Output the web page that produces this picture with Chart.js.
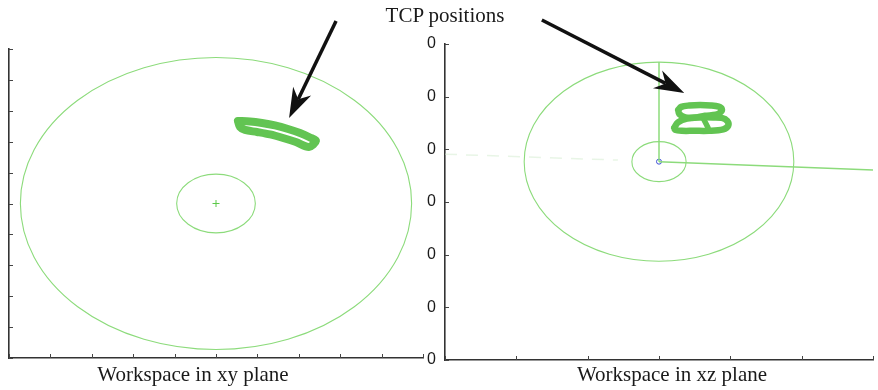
<!DOCTYPE html>
<html>
<head>
<meta charset="utf-8">
<title>TCP positions</title>
<script src="https://cdn.jsdelivr.net/npm/chart.js@4/dist/chart.umd.min.js"></script>
<style>
  html, body { margin: 0; padding: 0; background: #fff; }
  #wrap { position: relative; width: 878px; height: 390px; overflow: hidden; }
  #wrap canvas { position: absolute; left: 0; top: 0; }
  .cap { position: absolute; font-family: "Liberation Serif", "DejaVu Serif", serif; font-size: 21px;
         line-height: 21px; color: #1a1a1a; text-align: center; width: 300px; white-space: nowrap; }
</style>
</head>
<body>
<div id="wrap">
  <canvas id="xy" width="878" height="390"></canvas>
  <canvas id="xz" width="878" height="390"></canvas>
  <div class="cap" style="left:295px; top:5px;">TCP positions</div>
  <div class="cap" style="left:43px; top:364px;">Workspace in xy plane</div>
  <div class="cap" style="left:522px; top:364px;">Workspace in xz plane</div>
</div>
<script>
// ---- axis ticks ----
const xyTickValues = [-1, -0.8, -0.6, -0.4, -0.2, 0, 0.2, 0.4, 0.6, 0.8, 1];
const xzTickValuesX = [-1.5, -1, -0.5, 0, 0.5, 1, 1.5];
const xzTickValuesZ = [-1.5, -1, -0.5, 0, 0.5, 1, 1.5];
const xzTickLabels = ['0', '0', '0', '0', '0', '0', '0'];

// ---- robot workspace (outer reach / inner dead zone) ----
const workspaceRadii = [0.945, 0.19];
const baseXY = [0, 0];
const baseXZ = [0, 0.383];

// ---- arm links shown in the xz view ----
const upperLinkX = [0, 0];
const upperLinkZ = [0.383, 1.328];
const forearmX = [0, 1.5];
const forearmZ = [0.383, 0.304];
const shadowLinkX = [-1.5, -0.288];
const shadowLinkZ = [0.454, 0.398];

// ---- TCP trajectory, xy projection ----
const tcpXY_x = [0.106, 0.164, 0.222, 0.285, 0.348, 0.406, 0.454, 0.483,
                 0.449, 0.386, 0.324, 0.261, 0.198, 0.140, 0.116, 0.106];
const tcpXY_y = [0.534, 0.531, 0.521, 0.505, 0.482, 0.456, 0.427, 0.405,
                 0.366, 0.398, 0.424, 0.447, 0.463, 0.476, 0.495, 0.534];

// ---- TCP trajectory, xz projection (two stacked loops) ----
const tcpUpperX = [0.135, 0.156, 0.211, 0.288, 0.364, 0.419, 0.440, 0.433,
                   0.398, 0.322, 0.246, 0.184, 0.142, 0.135];
const tcpUpperZ = [0.874, 0.903, 0.916, 0.920, 0.916, 0.905, 0.885, 0.854,
                   0.828, 0.819, 0.800, 0.803, 0.836, 0.874];
const tcpLowerX = [0.107, 0.133, 0.197, 0.288, 0.378, 0.440, 0.478, 0.485,
                   0.450, 0.350, 0.246, 0.160, 0.112, 0.107];
const tcpLowerZ = [0.705, 0.757, 0.793, 0.803, 0.803, 0.798, 0.770, 0.724,
                   0.690, 0.676, 0.676, 0.676, 0.686, 0.705];
const tcpCrossX = [0.308, 0.343];
const tcpCrossZ = [0.800, 0.708];

// ---- callout arrows (tail, head) ----
const arrowXY = { from: [0.580, 1.181], to: [0.353, 0.553] };
const arrowXZ = { from: [-0.821, 1.728], to: [0.177, 1.035] };

const THIN_GREEN = '#8cdb7b';
const THICK_GREEN = '#62c452';
const AXIS_COLOR = '#333';

const pts = (xs, ys) => xs.map((v, i) => ({ x: v, y: ys[i] }));

// workspace circles, drawn through the scales so they follow the axis aspect
const workspacePlugin = {
  id: 'workspace',
  beforeDatasetsDraw(chart, args, opts) {
    const { ctx, scales: { x, y } } = chart;
    const cx = x.getPixelForValue(opts.center[0]);
    const cy = y.getPixelForValue(opts.center[1]);
    ctx.save();
    ctx.strokeStyle = opts.color;
    ctx.lineWidth = 1.1;
    for (const r of opts.radii) {
      const rx = Math.abs(x.getPixelForValue(opts.center[0] + r) - cx);
      const ry = Math.abs(y.getPixelForValue(opts.center[1] + r) - cy);
      ctx.beginPath();
      ctx.ellipse(cx, cy, rx, ry, 0, 0, Math.PI * 2);
      ctx.stroke();
    }
    ctx.restore();
  }
};

// short tick marks pointing into the plot area
const innerTicksPlugin = {
  id: 'innerTicks',
  afterDraw(chart, args, opts) {
    const { ctx, scales: { x, y }, chartArea } = chart;
    ctx.save();
    ctx.strokeStyle = opts.color;
    ctx.lineWidth = 1;
    ctx.beginPath();
    for (const v of opts.xValues) {
      const px = Math.round(x.getPixelForValue(v)) + 0.5;
      ctx.moveTo(px, chartArea.bottom);
      ctx.lineTo(px, chartArea.bottom - opts.length);
    }
    for (const v of opts.yValues) {
      const py = Math.round(y.getPixelForValue(v)) + 0.5;
      ctx.moveTo(chartArea.left, py);
      ctx.lineTo(chartArea.left + opts.length, py);
    }
    ctx.stroke();
    ctx.restore();
  }
};

// callout arrow with a notched head
const pointerPlugin = {
  id: 'pointer',
  afterDraw(chart, args, opts) {
    const { ctx, scales: { x, y } } = chart;
    const x0 = x.getPixelForValue(opts.from[0]), y0 = y.getPixelForValue(opts.from[1]);
    const x1 = x.getPixelForValue(opts.to[0]), y1 = y.getPixelForValue(opts.to[1]);
    const len = Math.hypot(x1 - x0, y1 - y0);
    const ux = (x1 - x0) / len, uy = (y1 - y0) / len;
    const L = opts.headLength, W = opts.headWidth, notch = 0.7 * L;
    ctx.save();
    ctx.strokeStyle = opts.color;
    ctx.fillStyle = opts.color;
    ctx.lineWidth = opts.width;
    ctx.beginPath();
    ctx.moveTo(x0, y0);
    ctx.lineTo(x1 - ux * notch, y1 - uy * notch);
    ctx.stroke();
    ctx.beginPath();
    ctx.moveTo(x1, y1);
    ctx.lineTo(x1 - ux * L - uy * W, y1 - uy * L + ux * W);
    ctx.lineTo(x1 - ux * notch, y1 - uy * notch);
    ctx.lineTo(x1 - ux * L + uy * W, y1 - uy * L - ux * W);
    ctx.closePath();
    ctx.fill();
    ctx.restore();
  }
};

const fixedTicks = values => scale => { scale.ticks = values.map(v => ({ value: v })); };

function axis(min, max, values, extra) {
  return Object.assign({
    type: 'linear', min, max,
    afterBuildTicks: fixedTicks(values),
    grid: { display: true, drawOnChartArea: false, drawTicks: false, color: 'rgba(0,0,0,0)' },
    border: { display: true, color: AXIS_COLOR, width: 1.6 },
    ticks: { display: false }
  }, extra);
}

const common = {
  responsive: false,
  animation: false,
  events: [],
  plugins: { legend: { display: false }, tooltip: { enabled: false } }
};

// ---------- xy plane ----------
new Chart(document.getElementById('xy'), {
  type: 'scatter',
  data: {
    datasets: [
      {
        data: pts(tcpXY_x, tcpXY_y), showLine: true, tension: 0.3,
        borderColor: THICK_GREEN, borderWidth: 8, pointRadius: 0,
        borderCapStyle: 'round', borderJoinStyle: 'round'
      },
      {
        data: pts([baseXY[0]], [baseXY[1]]), pointStyle: 'cross',
        pointRadius: 3.5, borderColor: '#5cc94a', borderWidth: 1
      }
    ]
  },
  options: Object.assign({}, common, {
    layout: { padding: { left: 0, top: 49, right: 455, bottom: 0 } },
    scales: {
      x: axis(-1, 1, xyTickValues, { position: 'bottom', afterFit: s => { s.height = 32; } }),
      y: axis(-1, 1, xyTickValues, { position: 'left', afterFit: s => { s.width = 9; } })
    },
    plugins: Object.assign({}, common.plugins, {
      workspace: { center: baseXY, radii: workspaceRadii, color: THIN_GREEN },
      innerTicks: { xValues: xyTickValues, yValues: xyTickValues, length: 4, color: '#444' },
      pointer: { from: arrowXY.from, to: arrowXY.to, headLength: 30, headWidth: 10, width: 3.5, color: '#111' }
    })
  }),
  plugins: [workspacePlugin, innerTicksPlugin, pointerPlugin]
});

// ---------- xz plane ----------
new Chart(document.getElementById('xz'), {
  type: 'scatter',
  data: {
    datasets: [
      { data: pts(shadowLinkX, shadowLinkZ), showLine: true, pointRadius: 0,
        borderColor: 'rgba(205,232,200,0.45)', borderWidth: 1.5, borderDash: [12, 9] },
      { data: pts(upperLinkX, upperLinkZ), showLine: true, pointRadius: 0,
        borderColor: THIN_GREEN, borderWidth: 1.5 },
      { data: pts(forearmX, forearmZ), showLine: true, pointRadius: 0,
        borderColor: THIN_GREEN, borderWidth: 1.5 },
      { data: pts(tcpUpperX, tcpUpperZ), showLine: true, tension: 0.35, pointRadius: 0,
        borderColor: THICK_GREEN, borderWidth: 6.5, borderCapStyle: 'round', borderJoinStyle: 'round' },
      { data: pts(tcpLowerX, tcpLowerZ), showLine: true, tension: 0.35, pointRadius: 0,
        borderColor: THICK_GREEN, borderWidth: 6.5, borderCapStyle: 'round', borderJoinStyle: 'round' },
      { data: pts(tcpCrossX, tcpCrossZ), showLine: true, pointRadius: 0,
        borderColor: THICK_GREEN, borderWidth: 5.5, borderCapStyle: 'round' },
      { data: pts([baseXZ[0]], [baseXZ[1]]), pointStyle: 'circle', pointRadius: 2.5,
        borderColor: '#3b4fd4', backgroundColor: 'rgba(0,0,0,0)', borderWidth: 1 }
    ]
  },
  options: Object.assign({}, common, {
    layout: { padding: { left: 0, top: 44, right: 0, bottom: 0 } },
    scales: {
      x: axis(-1.5, 1.5, xzTickValuesX, { position: 'bottom', afterFit: s => { s.height = 30; } }),
      y: axis(-1.5, 1.5, xzTickValuesZ, {
        position: 'left',
        afterFit: s => { s.width = 445; },
        ticks: {
          display: true, padding: 9, color: '#1a1a1a',
          font: { family: '"Liberation Sans", Arial, sans-serif', size: 16 },
          callback: (value, index) => xzTickLabels[index]
        }
      })
    },
    plugins: Object.assign({}, common.plugins, {
      workspace: { center: baseXZ, radii: workspaceRadii, color: THIN_GREEN },
      innerTicks: { xValues: xzTickValuesX, yValues: xzTickValuesZ, length: 4, color: '#444' },
      pointer: { from: arrowXZ.from, to: arrowXZ.to, headLength: 30, headWidth: 10, width: 3.5, color: '#111' }
    })
  }),
  plugins: [workspacePlugin, innerTicksPlugin, pointerPlugin]
});
</script>
</body>
</html>
